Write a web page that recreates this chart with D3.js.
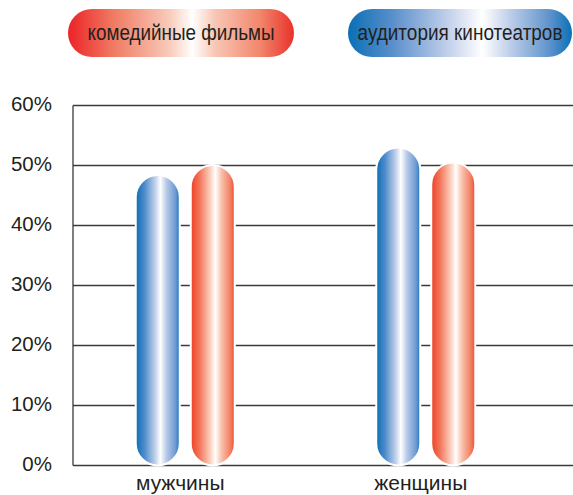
<!DOCTYPE html>
<html><head><meta charset="utf-8">
<script src="https://cdn.jsdelivr.net/npm/d3@7"></script>
<style>body{margin:0;background:#fff}svg{display:block}</style>
</head><body>
<script>
const categories = ["мужчины", "женщины"];
const seriesNames = ["аудитория кинотеатров", "комедийные фильмы"];
const audience = [48.4, 53.0];
const comedy = [50.1, 50.5];
const yTicks = [0, 10, 20, 30, 40, 50, 60];
const legendOrder = ["комедийные фильмы", "аудитория кинотеатров"];

const W = 573, H = 495;
const svg = d3.select("body").append("svg").attr("width", W).attr("height", H);
const font = "'Liberation Sans', Arial, Helvetica, sans-serif";

const y = d3.scaleLinear().domain([0, 60]).range([465.5, 105.5]);
const x0 = d3.scaleBand().domain(categories).range([65, 546]).padding(0);
const x1 = d3.scaleBand().domain(seriesNames).range([0, 99]).paddingInner(0.2).paddingOuter(0);

const defs = svg.append("defs");
function grad(id, stops) {
  const g = defs.append("linearGradient").attr("id", id).attr("x1", "0%").attr("x2", "100%").attr("y1", "0%").attr("y2", "0%");
  stops.forEach(s => g.append("stop").attr("offset", s[0]).attr("stop-color", s[1]));
}
grad("barBlue", [[0, "#0a6db5"], [0.2, "#4f8cca"], [0.45, "#c4d3ec"], [0.56, "#ffffff"], [0.7, "#b7c9e7"], [0.9, "#6d9bd2"], [1, "#1d76c0"]]);
grad("barRed", [[0, "#ee3f26"], [0.2, "#f3765a"], [0.45, "#fbd2c2"], [0.56, "#ffffff"], [0.7, "#f9c0ab"], [0.9, "#f27f63"], [1, "#ee4a30"]]);
grad("legRed", [[0, "#ec2227"], [0.2, "#f07a62"], [0.45, "#f8cbbb"], [0.55, "#ffffff"], [0.65, "#f8c7b5"], [0.85, "#f2866c"], [1, "#e8322a"]]);
grad("legBlue", [[0, "#0a6fb6"], [0.2, "#5a8fcb"], [0.45, "#c3d1eb"], [0.6, "#ffffff"], [0.72, "#c0cfea"], [0.9, "#5f93cc"], [1, "#0a6fb6"]]);

// gridlines
svg.append("g").selectAll("line").data(yTicks).join("line")
  .attr("x1", 73).attr("x2", W).attr("y1", d => y(d)).attr("y2", d => y(d))
  .attr("stroke", "#3a3a3a").attr("stroke-width", 1.3);
// left axis line
svg.append("line").attr("x1", 73).attr("x2", 73).attr("y1", y(60)).attr("y2", y(0))
  .attr("stroke", "#3a3a3a").attr("stroke-width", 1.3);

// tick labels
svg.append("g").selectAll("text").data(yTicks).join("text")
  .attr("x", 52).attr("y", d => y(d) + 5).attr("text-anchor", "end")
  .attr("font-family", font).attr("font-size", 20.5).attr("fill", "#231f20")
  .text(d => d + "%");

// bars
const data = categories.map((c, i) => ({ cat: c, vals: [
  { s: seriesNames[0], v: audience[i], fill: "url(#barBlue)" },
  { s: seriesNames[1], v: comedy[i], fill: "url(#barRed)" }
]}));
const bw = x1.bandwidth();
svg.append("g").selectAll("g").data(data).join("g")
  .attr("transform", d => `translate(${x0(d.cat) + x0.bandwidth() / 2 - 49.5},0)`)
  .selectAll("rect").data(d => d.vals).join("rect")
  .attr("x", d => x1(d.s)).attr("width", bw)
  .attr("y", d => y(d.v)).attr("height", d => y(0) - y(d.v))
  .attr("rx", bw / 2).attr("ry", bw / 2)
  .attr("fill", d => d.fill).attr("stroke", "#fff").attr("stroke-width", 2);

// category labels
svg.append("g").selectAll("text").data(categories).join("text")
  .attr("x", d => x0(d) + x0.bandwidth() / 2 - 5).attr("y", 490)
  .attr("text-anchor", "middle").attr("font-family", font).attr("font-size", 21).attr("fill", "#231f20")
  .text(d => d);

// legend pills
const legend = [
  { name: legendOrder[0], x: 68, w: 226, fill: "url(#legRed)", tl: 187 },
  { name: legendOrder[1], x: 348, w: 224, fill: "url(#legBlue)", tl: 205 }
];
const lg = svg.append("g").selectAll("g").data(legend).join("g");
lg.append("rect").attr("x", d => d.x).attr("y", 9).attr("width", d => d.w).attr("height", 48)
  .attr("rx", 24).attr("ry", 24).attr("fill", d => d.fill);
lg.append("text").attr("x", 0).attr("y", 0).attr("text-anchor", "middle")
  .attr("font-family", font).attr("font-size", 22.5).attr("fill", "#231f20")
  .text(d => d.name)
  .each(function (d) {
    const nat = this.getComputedTextLength();
    const s = d.tl / nat;
    d3.select(this).attr("transform", `translate(${d.x + d.w / 2},39.5) scale(${s},1)`);
  });
</script>
</body></html>
